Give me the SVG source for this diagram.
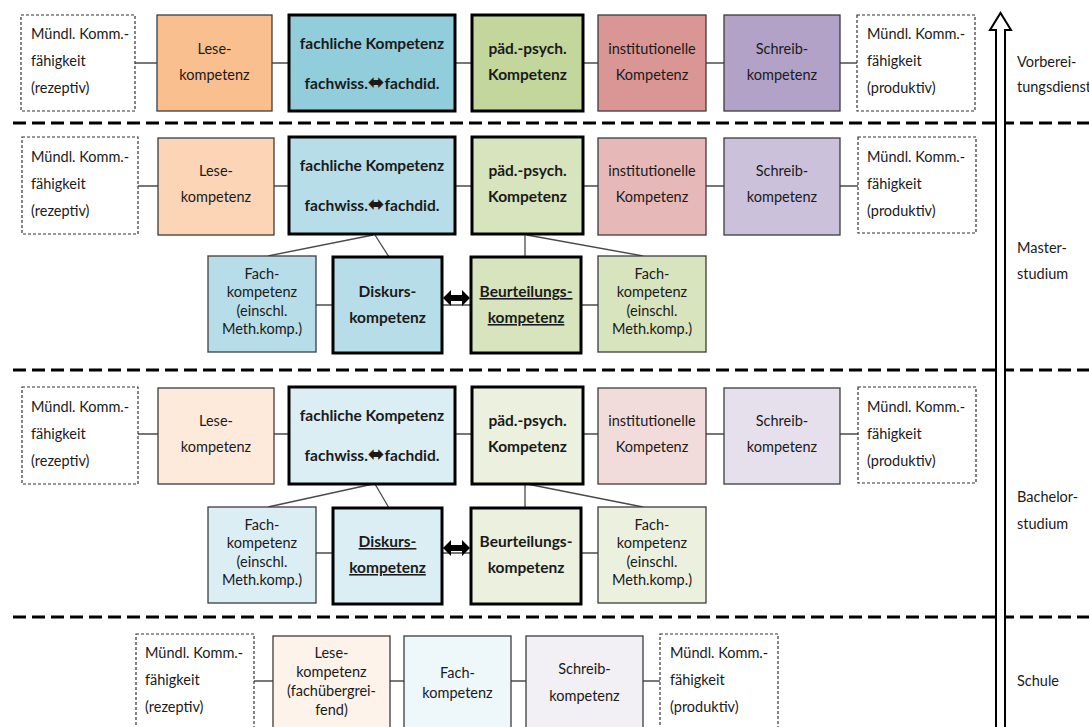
<svg xmlns="http://www.w3.org/2000/svg" width="1089" height="727" viewBox="0 0 1089 727">
<style>
text{font-family:Lato,"Noto Sans","DejaVu Sans",sans-serif;font-size:14.5px;fill:#1a1a1a}
.c{text-anchor:middle}
.b{font-weight:bold;font-size:15.5px}
.u{text-decoration:underline}
.n{stroke:#3c3c3c;stroke-width:1.3}
.t{stroke:#000;stroke-width:3}
.d{fill:#fff;stroke:#333;stroke-width:1.2;stroke-dasharray:3 2}
.sep{stroke:#000;stroke-width:3;stroke-dasharray:13 6;fill:none}
.con line{stroke:#4a4a4a;stroke-width:1.3}
.ar{font-family:"DejaVu Sans",sans-serif;font-size:20px}
</style>
<rect width="1089" height="727" fill="#fff"/>

<g id="separators">
<line class="sep" x1="13" y1="123" x2="1089" y2="123"/>
<line class="sep" x1="13" y1="370" x2="1089" y2="370"/>
<line class="sep" x1="13" y1="617" x2="1089" y2="617"/>
</g>

<g id="connectors" class="con">
<line x1="135" y1="63" x2="857" y2="63"/>
<line x1="138" y1="186" x2="858" y2="186"/>
<line x1="138" y1="434" x2="858" y2="434"/>
<line x1="254" y1="681" x2="660" y2="681"/>
<line x1="316" y1="305" x2="598" y2="305"/>
<line x1="316" y1="553" x2="598" y2="553"/>
<line x1="373" y1="235" x2="268" y2="256"/>
<line x1="375" y1="235" x2="389" y2="257"/>
<line x1="525" y1="235" x2="525" y2="257"/>
<line x1="527" y1="235" x2="643" y2="256"/>
<line x1="373" y1="484" x2="268" y2="507"/>
<line x1="375" y1="484" x2="389" y2="508"/>
<line x1="525" y1="484" x2="525" y2="508"/>
<line x1="527" y1="484" x2="643" y2="507"/>
<polygon points="443,298 451,290 451,295 462,295 462,290 470,298 462,306 462,301 451,301 451,306" fill="#000"/>
<polygon points="443,548 451,540 451,545 462,545 462,540 470,548 462,556 462,551 451,551 451,556" fill="#000"/>
</g>

<g id="vd-muendl-rez"><rect class="d" x="21" y="15" width="114" height="96"/>
<text x="31" y="39">Mündl. Komm.-</text><text x="31" y="66">fähigkeit</text><text x="31" y="93">(rezeptiv)</text></g>
<g id="vd-lese"><rect class="n" x="157" y="15" width="115" height="96" fill="#FABF8F"/>
<text class="c" x="214.5" y="54">Lese-</text><text class="c" x="214.5" y="80">kompetenz</text></g>
<g id="vd-fach"><rect class="t" x="289" y="15" width="166" height="96" fill="#92CDDC"/>
<text class="c b" x="372" y="49">fachliche Kompetenz</text><text class="c b" x="372" y="89">fachwiss.<tspan class="ar">⬌</tspan>fachdid.</text></g>
<g id="vd-paed"><rect class="t" x="472" y="15" width="111" height="96" fill="#C3D69B"/>
<text class="c b" x="527.5" y="54">päd.-psych.</text><text class="c b" x="527.5" y="80">Kompetenz</text></g>
<g id="vd-inst"><rect class="n" x="598" y="15" width="108" height="96" fill="#D99694"/>
<text class="c" x="652" y="54">institutionelle</text><text class="c" x="652" y="80">Kompetenz</text></g>
<g id="vd-schreib"><rect class="n" x="724" y="15" width="116" height="96" fill="#B3A2C7"/>
<text class="c" x="782" y="54">Schreib-</text><text class="c" x="782" y="80">kompetenz</text></g>
<g id="vd-muendl-prod"><rect class="d" x="857" y="15" width="118" height="96"/>
<text x="867" y="39">Mündl. Komm.-</text><text x="867" y="66">fähigkeit</text><text x="867" y="93">(produktiv)</text></g>

<g id="ma-muendl-rez"><rect class="d" x="22" y="137" width="116" height="97"/>
<text x="31" y="162">Mündl. Komm.-</text><text x="31" y="189">fähigkeit</text><text x="31" y="216">(rezeptiv)</text></g>
<g id="ma-lese"><rect class="n" x="158" y="138" width="116" height="97" fill="#FBD5B5"/>
<text class="c" x="216" y="176">Lese-</text><text class="c" x="216" y="202">kompetenz</text></g>
<g id="ma-fach"><rect class="t" x="289" y="137" width="166" height="97" fill="#B7DEE8"/>
<text class="c b" x="372" y="171">fachliche Kompetenz</text><text class="c b" x="372" y="211">fachwiss.<tspan class="ar">⬌</tspan>fachdid.</text></g>
<g id="ma-paed"><rect class="t" x="472" y="137" width="111" height="97" fill="#D7E4BD"/>
<text class="c b" x="527.5" y="176">päd.-psych.</text><text class="c b" x="527.5" y="202">Kompetenz</text></g>
<g id="ma-inst"><rect class="n" x="598" y="138" width="108" height="97" fill="#E6B9B8"/>
<text class="c" x="652" y="176">institutionelle</text><text class="c" x="652" y="202">Kompetenz</text></g>
<g id="ma-schreib"><rect class="n" x="724" y="138" width="116" height="97" fill="#CCC1DA"/>
<text class="c" x="782" y="176">Schreib-</text><text class="c" x="782" y="202">kompetenz</text></g>
<g id="ma-muendl-prod"><rect class="d" x="858" y="137" width="118" height="96"/>
<text x="867" y="162">Mündl. Komm.-</text><text x="867" y="189">fähigkeit</text><text x="867" y="216">(produktiv)</text></g>
<g id="ma-fachkomp-l"><rect class="n" x="208" y="256" width="108" height="96" fill="#B7DEE8"/>
<text class="c" x="262" y="279">Fach-</text><text class="c" x="262" y="297">kompetenz</text><text class="c" x="262" y="316">(einschl.</text><text class="c" x="262" y="334">Meth.komp.)</text></g>
<g id="ma-diskurs"><rect class="t" x="333" y="257" width="109" height="96" fill="#B7DEE8"/>
<text class="c b" x="387.5" y="297">Diskurs-</text><text class="c b" x="387.5" y="323">kompetenz</text></g>
<g id="ma-beurteilung"><rect class="t" x="471" y="257" width="110" height="96" fill="#D7E4BD"/>
<text class="c b u" x="526" y="297">Beurteilungs-</text><text class="c b u" x="526" y="323">kompetenz</text></g>
<g id="ma-fachkomp-r"><rect class="n" x="598" y="256" width="108" height="96" fill="#D7E4BD"/>
<text class="c" x="652" y="279">Fach-</text><text class="c" x="652" y="297">kompetenz</text><text class="c" x="652" y="316">(einschl.</text><text class="c" x="652" y="334">Meth.komp.)</text></g>

<g id="ba-muendl-rez"><rect class="d" x="22" y="387" width="116" height="97"/>
<text x="31" y="412">Mündl. Komm.-</text><text x="31" y="439">fähigkeit</text><text x="31" y="466">(rezeptiv)</text></g>
<g id="ba-lese"><rect class="n" x="158" y="388" width="116" height="96" fill="#FDEADA"/>
<text class="c" x="216" y="426">Lese-</text><text class="c" x="216" y="452">kompetenz</text></g>
<g id="ba-fach"><rect class="t" x="289" y="387" width="166" height="97" fill="#DBEEF4"/>
<text class="c b" x="372" y="421">fachliche Kompetenz</text><text class="c b" x="372" y="461">fachwiss.<tspan class="ar">⬌</tspan>fachdid.</text></g>
<g id="ba-paed"><rect class="t" x="472" y="387" width="111" height="97" fill="#EBF1DE"/>
<text class="c b" x="527.5" y="426">päd.-psych.</text><text class="c b" x="527.5" y="452">Kompetenz</text></g>
<g id="ba-inst"><rect class="n" x="598" y="388" width="108" height="96" fill="#F2DCDB"/>
<text class="c" x="652" y="426">institutionelle</text><text class="c" x="652" y="452">Kompetenz</text></g>
<g id="ba-schreib"><rect class="n" x="724" y="388" width="116" height="96" fill="#E6E0EC"/>
<text class="c" x="782" y="426">Schreib-</text><text class="c" x="782" y="452">kompetenz</text></g>
<g id="ba-muendl-prod"><rect class="d" x="858" y="387" width="118" height="96"/>
<text x="867" y="412">Mündl. Komm.-</text><text x="867" y="439">fähigkeit</text><text x="867" y="466">(produktiv)</text></g>
<g id="ba-fachkomp-l"><rect class="n" x="208" y="507" width="108" height="96" fill="#DBEEF4"/>
<text class="c" x="262" y="530">Fach-</text><text class="c" x="262" y="548">kompetenz</text><text class="c" x="262" y="567">(einschl.</text><text class="c" x="262" y="585">Meth.komp.)</text></g>
<g id="ba-diskurs"><rect class="t" x="333" y="508" width="109" height="96" fill="#DBEEF4"/>
<text class="c b u" x="387.5" y="547">Diskurs-</text><text class="c b u" x="387.5" y="573">kompetenz</text></g>
<g id="ba-beurteilung"><rect class="t" x="471" y="508" width="110" height="96" fill="#EBF1DE"/>
<text class="c b" x="526" y="547">Beurteilungs-</text><text class="c b" x="526" y="573">kompetenz</text></g>
<g id="ba-fachkomp-r"><rect class="n" x="598" y="507" width="108" height="96" fill="#EBF1DE"/>
<text class="c" x="652" y="530">Fach-</text><text class="c" x="652" y="548">kompetenz</text><text class="c" x="652" y="567">(einschl.</text><text class="c" x="652" y="585">Meth.komp.)</text></g>

<g id="s-muendl-rez"><rect class="d" x="136" y="634" width="118" height="100"/>
<text x="145" y="658">Mündl. Komm.-</text><text x="145" y="685">fähigkeit</text><text x="145" y="712">(rezeptiv)</text></g>
<g id="s-lese"><rect class="n" x="273" y="636" width="117" height="100" fill="#FDF3EA"/>
<text class="c" x="331.5" y="658">Lese-</text><text class="c" x="331.5" y="677">kompetenz</text><text class="c" x="331.5" y="696">(fachübergrei-</text><text class="c" x="331.5" y="715">fend)</text></g>
<g id="s-fach"><rect class="n" x="404" y="636" width="107" height="100" fill="#EEF7FA"/>
<text class="c" x="457.5" y="678">Fach-</text><text class="c" x="457.5" y="698">kompetenz</text></g>
<g id="s-schreib"><rect class="n" x="526" y="636" width="117" height="100" fill="#F2EFF5"/>
<text class="c" x="584.5" y="674">Schreib-</text><text class="c" x="584.5" y="701">kompetenz</text></g>
<g id="s-muendl-prod"><rect class="d" x="660" y="634" width="118" height="100"/>
<text x="670" y="658">Mündl. Komm.-</text><text x="670" y="685">fähigkeit</text><text x="670" y="712">(produktiv)</text></g>

<g id="stage-arrow">
<polygon points="996,740 996,30 990,30 1000.5,13 1011,30 1005,30 1005,740" fill="#fff" stroke="#000" stroke-width="2" stroke-linejoin="miter"/>
</g>
<g id="stage-labels">
<text x="1017" y="67">Vorberei-</text><text x="1017" y="92">tungsdienst</text>
<text x="1017" y="253">Master-</text><text x="1017" y="279">studium</text>
<text x="1017" y="502">Bachelor-</text><text x="1017" y="529">studium</text>
<text x="1017" y="686">Schule</text>
</g>
</svg>
